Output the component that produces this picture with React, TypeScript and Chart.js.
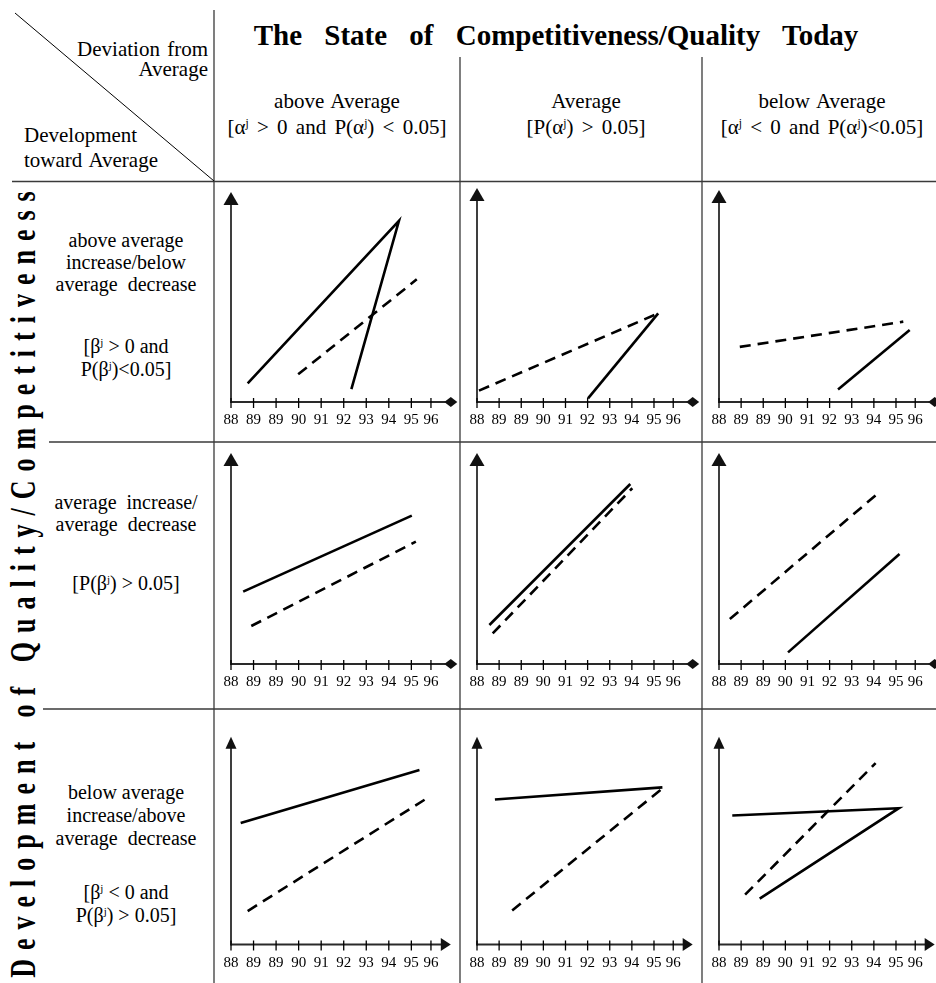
import React, { useEffect, useRef } from "react";
import { Chart, registerables } from "chart.js";

Chart.register(...registerables);

const SERIF = '"Liberation Serif", "Times New Roman", Times, serif';

// ---------- data ----------
// tick labels of every small x axis (as printed in the original, 89 appears twice)
const xTickLabels = ["88", "89", "89", "90", "91", "92", "93", "94", "95", "96"];
// where each tick label sits on the axis (the last one is drawn a little closer in the original)
const xTickPos = [0, 1, 2, 3, 4, 5, 6, 7, 8, 8.87];

// x values are positions on the tick axis (0 = first tick "88"), y values are % of the axis height
// row 1: above average increase / below average decrease
const p11SolidX = [5.34, 7.45, 0.74];
const p11SolidY = [6.1, 86.3, 8.9];
const p11DashX = [2.98, 8.24];
const p11DashY = [13.2, 58.4];

const p12SolidX = [5.02, 8.19];
const p12SolidY = [1.7, 41.4];
const p12DashX = [0.09, 8.19];
const p12DashY = [5.3, 41.4];

const p13SolidX = [5.38, 8.62];
const p13SolidY = [5.9, 34.0];
const p13DashX = [0.94, 8.33];
const p13DashY = [26.0, 37.9];

// row 2: average increase / average decrease
const p21SolidX = [0.54, 8.02];
const p21SolidY = [34.3, 70.3];
const p21DashX = [0.9, 8.2];
const p21DashY = [18.0, 58.0];

const p22SolidX = [0.56, 6.93];
const p22SolidY = [18.5, 85.3];
const p22DashX = [0.71, 7.02];
const p22DashY = [14.5, 83.3];

const p23SolidX = [3.12, 8.16];
const p23SolidY = [5.5, 52.1];
const p23DashX = [0.49, 7.1];
const p23DashY = [21.3, 80.1];

// row 3: below average increase / above average decrease
const p31SolidX = [0.43, 8.36];
const p31SolidY = [58.5, 84.0];
const p31DashX = [0.74, 8.84];
const p31DashY = [16.1, 71.4];

const p32SolidX = [0.81, 8.38];
const p32SolidY = [69.8, 75.6];
const p32DashX = [1.59, 8.38];
const p32DashY = [16.4, 75.1];

const p33SolidX = [0.6, 8.13, 1.84];
const p33SolidY = [62.1, 65.6, 22.1];
const p33DashX = [1.18, 7.08];
const p33DashY = [24.0, 87.3];

// texts
const titleText = "The State of Competitiveness/Quality Today";
const cornerTop = ["Deviation from", "Average"];
const cornerBottom = ["Development", "toward Average"];
const colHeads = ["above Average", "Average", "below Average"];
const colConds = ["[α^j > 0 and P(α^j) < 0.05]", "[P(α^j) > 0.05]", "[α^j < 0 and P(α^j)<0.05]"];
const rowLabel1 = ["above average", "increase/below", "average  decrease"];
const rowCond1 = ["[β^j > 0 and", "P(β^j)<0.05]"];
const rowLabel2 = ["average  increase/", "average  decrease"];
const rowCond2 = ["[P(β^j) > 0.05]"];
const rowLabel3 = ["below average", "increase/above", "average  decrease"];
const rowCond3 = ["[β^j < 0 and", "P(β^j) > 0.05]"];
const sideTitle = "Development of Quality/Competitiveness";

// ---------- layout ----------
const COL_LEFT = [214, 460, 702];
const COL_W = [246, 242, 234];
const ROW_TOP = [181, 442, 709];
const ROW_H = [261, 267, 274];
const YAXIS_OFF = [16.8, 12.7, 12.7];
const TIP_OFF = [
  [11, 7, 9],
  [11, 11, 11],
  [27.7, 27.7, 27.7],
];
const XAXIS_OFF = [221, 222, 235.5];
const AXIS_LEN = 220;
const X_MAX = 9.75;
const LABEL_BOX = 30;

const axesPlugin = {
  id: "axesArrows",
  beforeDatasetsDraw(chart: any, _args: any, opts: any) {
    const { ctx, chartArea: a } = chart;
    const x = chart.scales.x;
    const big = !!opts.big;
    ctx.save();
    // y axis
    ctx.strokeStyle = "#2a2a2a";
    ctx.lineWidth = 1.8;
    ctx.beginPath();
    ctx.moveTo(a.left, a.bottom + 1);
    ctx.lineTo(a.left, a.top + (big ? 11 : 9));
    ctx.stroke();
    // x axis
    ctx.beginPath();
    ctx.moveTo(a.left, a.bottom);
    ctx.lineTo(a.right - (big ? 5 : 8), a.bottom);
    ctx.stroke();
    // tick marks
    ctx.strokeStyle = "#000";
    ctx.lineWidth = 1.3;
    x.ticks.forEach((t: any) => {
      const px = x.getPixelForValue(t.value);
      ctx.beginPath();
      ctx.moveTo(px, a.bottom - 4);
      ctx.lineTo(px, a.bottom + 6);
      ctx.stroke();
    });
    ctx.fillStyle = "#111";
    if (big) {
      ctx.beginPath();
      ctx.moveTo(a.left, a.top);
      ctx.lineTo(a.left + 7.5, a.top + 13);
      ctx.lineTo(a.left - 7.5, a.top + 13);
      ctx.closePath();
      ctx.fill();
      ctx.beginPath();
      ctx.moveTo(a.right - 6.5, a.bottom);
      ctx.lineTo(a.right, a.bottom - 5);
      ctx.lineTo(a.right + 6.5, a.bottom);
      ctx.lineTo(a.right, a.bottom + 5);
      ctx.closePath();
      ctx.fill();
    } else {
      ctx.beginPath();
      ctx.moveTo(a.left, a.top);
      ctx.lineTo(a.left + 5.5, a.top + 12);
      ctx.lineTo(a.left - 5.5, a.top + 12);
      ctx.closePath();
      ctx.fill();
      ctx.beginPath();
      ctx.moveTo(a.right, a.bottom);
      ctx.lineTo(a.right - 10, a.bottom - 6.5);
      ctx.lineTo(a.right - 10, a.bottom + 6.5);
      ctx.closePath();
      ctx.fill();
    }
    ctx.restore();
  },
};

type PanelProps = {
  row: number;
  col: number;
  solidX: number[];
  solidY: number[];
  dashX: number[];
  dashY: number[];
};

function Panel({ row, col, solidX, solidY, dashX, dashY }: PanelProps) {
  const ref = useRef<HTMLCanvasElement>(null);
  const left = COL_LEFT[col];
  const top = ROW_TOP[row];
  const w = COL_W[col];
  const h = ROW_H[row];
  const padL = YAXIS_OFF[col];
  const padT = TIP_OFF[row][col];
  const padR = w - padL - AXIS_LEN;
  const padB = h - XAXIS_OFF[row] - LABEL_BOX;
  useEffect(() => {
    const chart = new Chart(ref.current as HTMLCanvasElement, {
      type: "line",
      data: {
        datasets: [
          {
            data: solidX.map((x, i) => ({ x, y: solidY[i] })),
            borderColor: "#000",
            borderWidth: 2.6,
            pointRadius: 0,
            fill: false,
            tension: 0,
          },
          {
            data: dashX.map((x, i) => ({ x, y: dashY[i] })),
            borderColor: "#000",
            borderWidth: 2.6,
            borderDash: [11, 7],
            pointRadius: 0,
            fill: false,
            tension: 0,
          },
        ],
      },
      options: {
        animation: false,
        responsive: false,
        devicePixelRatio: 1,
        events: [],
        layout: { padding: { left: padL, top: padT, right: padR, bottom: padB } },
        plugins: {
          legend: { display: false },
          tooltip: { enabled: false },
          axesArrows: { big: row < 2 },
        } as any,
        scales: {
          x: {
            type: "linear",
            min: 0,
            max: X_MAX,
            grid: { display: false, drawTicks: false },
            border: { display: false },
            afterBuildTicks: (s: any) => {
              s.ticks = xTickPos.map((v) => ({ value: v }));
            },
            afterFit: (s: any) => {
              s.height = LABEL_BOX;
            },
            ticks: {
              autoSkip: false,
              maxRotation: 0,
              minRotation: 0,
              padding: 9.5,
              color: "#000",
              font: { family: SERIF, size: 15 },
              callback: (_v: any, i: number) => xTickLabels[i],
            },
          },
          y: { display: false, min: 0, max: 100 },
        },
      },
      plugins: [axesPlugin as any],
    });
    return () => chart.destroy();
  }, []);
  return (
    <canvas
      ref={ref}
      width={w}
      height={h}
      style={{ position: "absolute", left, top, width: w, height: h }}
    />
  );
}

function withSup(s: string) {
  const parts = s.split("^j");
  const out: any[] = [];
  parts.forEach((p, i) => {
    out.push(<span key={"t" + i}>{p}</span>);
    if (i < parts.length - 1)
      out.push(
        <sup key={"s" + i} style={{ fontSize: "0.55em", lineHeight: 0, verticalAlign: "0.6em" }}>
          j
        </sup>
      );
  });
  return out;
}

function Txt({
  x,
  y,
  align = "center",
  size = 21,
  bold = false,
  ws,
  ls,
  children,
}: {
  x: number;
  y: number;
  align?: string;
  size?: number;
  bold?: boolean;
  ws?: number;
  ls?: number;
  children: any;
}) {
  const tx = align === "center" ? "-50%" : align === "right" ? "-100%" : "0";
  return (
    <div
      style={{
        position: "absolute",
        left: x,
        top: y,
        transform: `translate(${tx}, -50%)`,
        fontFamily: SERIF,
        fontSize: size,
        fontWeight: bold ? 700 : 400,
        lineHeight: `${size}px`,
        whiteSpace: "pre",
        color: "#000",
        wordSpacing: ws,
        letterSpacing: ls,
      }}
    >
      {children}
    </div>
  );
}

export default function App() {
  const panels: PanelProps[] = [
    { row: 0, col: 0, solidX: p11SolidX, solidY: p11SolidY, dashX: p11DashX, dashY: p11DashY },
    { row: 0, col: 1, solidX: p12SolidX, solidY: p12SolidY, dashX: p12DashX, dashY: p12DashY },
    { row: 0, col: 2, solidX: p13SolidX, solidY: p13SolidY, dashX: p13DashX, dashY: p13DashY },
    { row: 1, col: 0, solidX: p21SolidX, solidY: p21SolidY, dashX: p21DashX, dashY: p21DashY },
    { row: 1, col: 1, solidX: p22SolidX, solidY: p22SolidY, dashX: p22DashX, dashY: p22DashY },
    { row: 1, col: 2, solidX: p23SolidX, solidY: p23SolidY, dashX: p23DashX, dashY: p23DashY },
    { row: 2, col: 0, solidX: p31SolidX, solidY: p31SolidY, dashX: p31DashX, dashY: p31DashY },
    { row: 2, col: 1, solidX: p32SolidX, solidY: p32SolidY, dashX: p32DashX, dashY: p32DashY },
    { row: 2, col: 2, solidX: p33SolidX, solidY: p33SolidY, dashX: p33DashX, dashY: p33DashY },
  ];
  const colCenters = [337, 586, 822];
  const rowX = 126;
  const rs = 20;
  return (
    <div
      style={{
        position: "absolute",
        left: 0,
        top: 0,
        width: 936,
        height: 983,
        overflow: "hidden",
        background: "#fff",
      }}
    >
      {panels.map((p, i) => (
        <Panel key={i} {...p} />
      ))}

      <Txt x={556} y={35} size={29} bold ws={15}>
        {titleText}
      </Txt>
      <Txt x={208} y={48.5} align="right" ws={2}>{cornerTop[0]}</Txt>
      <Txt x={208} y={69} align="right">{cornerTop[1]}</Txt>
      <Txt x={24} y={135} align="left">{cornerBottom[0]}</Txt>
      <Txt x={24} y={160} align="left" ws={2}>{cornerBottom[1]}</Txt>

      {colHeads.map((h, i) => (
        <Txt key={"h" + i} x={colCenters[i]} y={100.5} ws={2}>{h}</Txt>
      ))}
      {colConds.map((h, i) => (
        <Txt key={"c" + i} x={colCenters[i]} y={127} ws={3}>{withSup(h)}</Txt>
      ))}

      {rowLabel1.map((s, i) => (
        <Txt key={"r1" + i} x={rowX} y={240 + i * 22} size={rs}>{s}</Txt>
      ))}
      {rowCond1.map((s, i) => (
        <Txt key={"rc1" + i} x={rowX} y={346 + i * 23} size={rs}>{withSup(s)}</Txt>
      ))}
      {rowLabel2.map((s, i) => (
        <Txt key={"r2" + i} x={rowX} y={501.5 + i * 22.5} size={rs}>{s}</Txt>
      ))}
      {rowCond2.map((s, i) => (
        <Txt key={"rc2" + i} x={rowX} y={583} size={rs}>{withSup(s)}</Txt>
      ))}
      {rowLabel3.map((s, i) => (
        <Txt key={"r3" + i} x={rowX} y={792 + i * 23} size={rs}>{s}</Txt>
      ))}
      {rowCond3.map((s, i) => (
        <Txt key={"rc3" + i} x={rowX} y={892 + i * 23} size={rs}>{withSup(s)}</Txt>
      ))}

      <div
        style={{
          position: "absolute",
          left: 24 - 420,
          top: 580 - 15,
          width: 840,
          height: 30,
          lineHeight: "30px",
          textAlign: "center",
          fontFamily: SERIF,
          fontWeight: 700,
          fontSize: 26,
          letterSpacing: 9,
          whiteSpace: "nowrap",
          transform: "rotate(-90deg) scaleY(1.4)",
          transformOrigin: "50% 50%",
          color: "#000",
        }}
      >
        {sideTitle}
      </div>

      <svg
        width={936}
        height={983}
        style={{ position: "absolute", left: 0, top: 0, pointerEvents: "none" }}
      >
        <g stroke="#3a3a3a" strokeWidth={1.3} fill="none">
          <line x1={214} y1={10} x2={214} y2={983} />
          <line x1={460} y1={57} x2={460} y2={983} />
          <line x1={702} y1={57} x2={702} y2={983} />
          <line x1={12} y1={181.5} x2={936} y2={181.5} />
          <line x1={49} y1={442} x2={936} y2={442} />
          <line x1={43} y1={709} x2={936} y2={709} />
        </g>
        <line x1={15} y1={13} x2={214} y2={181} stroke="#000" strokeWidth={1} />
      </svg>
    </div>
  );
}
